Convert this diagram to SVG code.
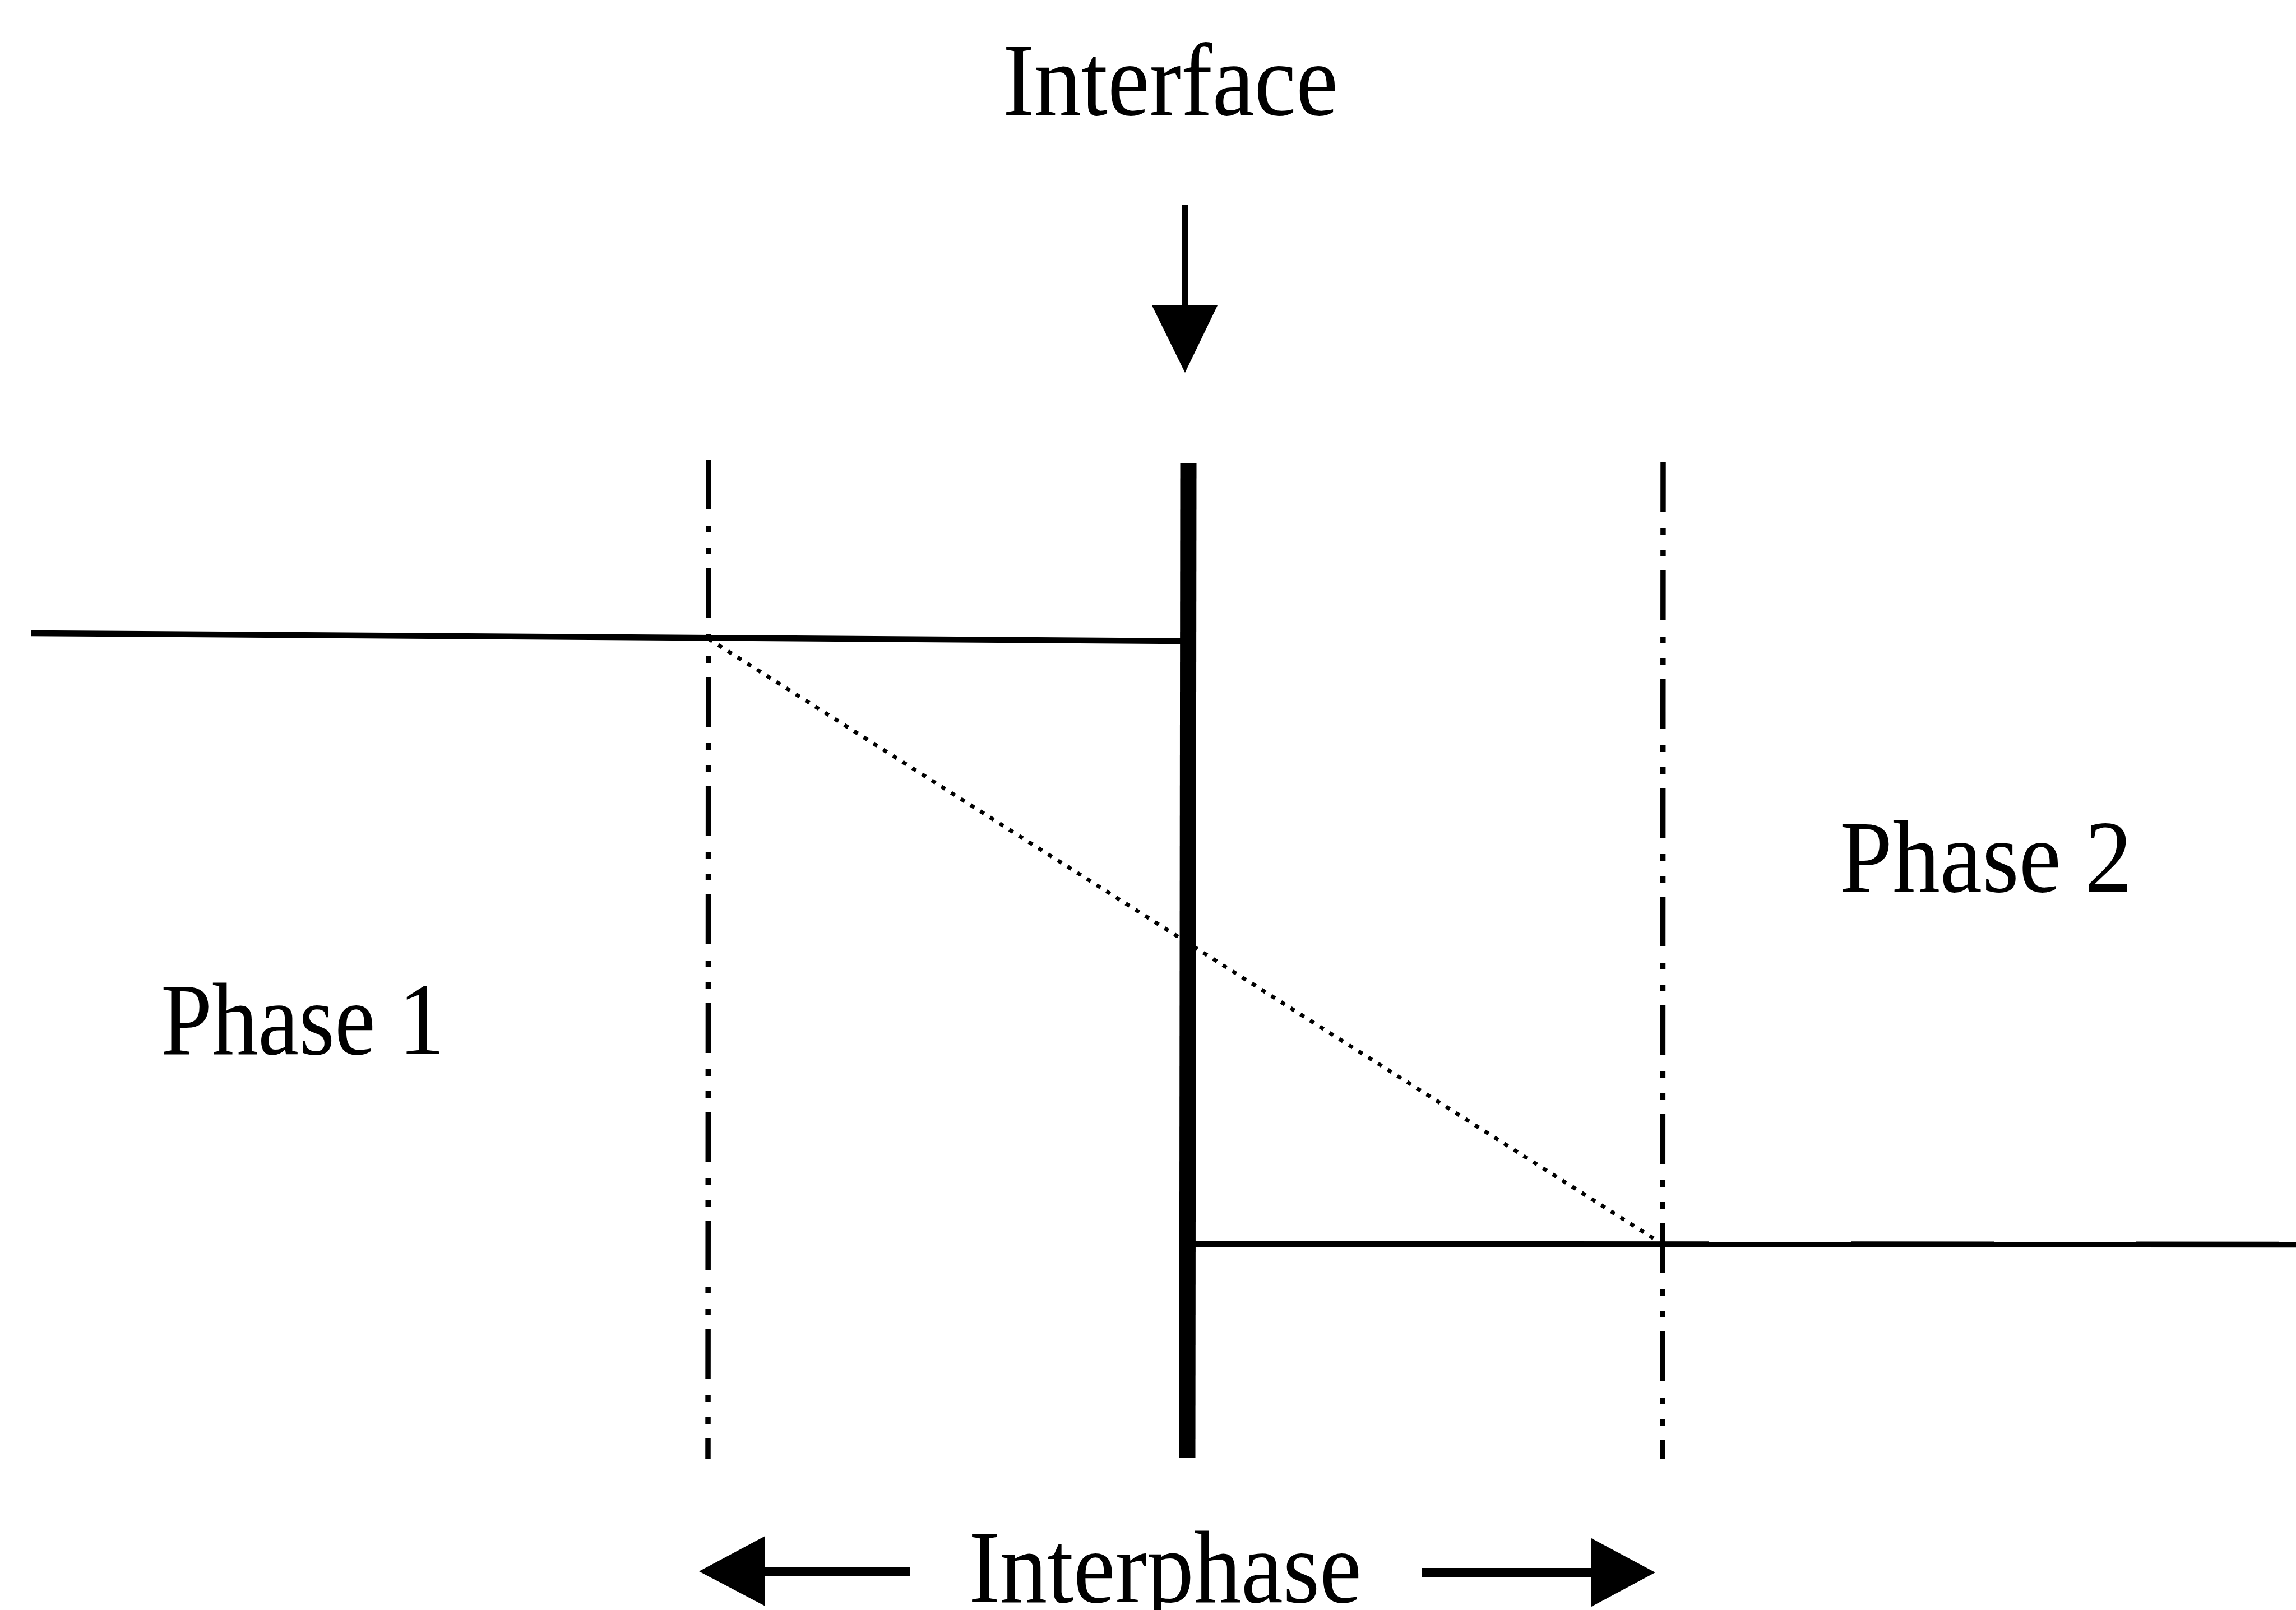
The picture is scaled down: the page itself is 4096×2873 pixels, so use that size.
<svg xmlns="http://www.w3.org/2000/svg" width="4096" height="2873" viewBox="0 0 4096 2873">
<style>
.lbl{font-family:"Liberation Serif","Times New Roman",serif;font-size:184px;fill:#000}
.solid{stroke:#000;stroke-width:10.5;fill:none}
.dashdot{stroke:#000;stroke-width:9.5;fill:none;stroke-dasharray:89 29 12 27 12 25}
.dotted{stroke:#000;stroke-width:7;fill:none;stroke-dasharray:8 12.5}
.head{fill:#000;stroke:none}
</style>
<rect width="4096" height="2873" fill="#fff"/>
<g id="interface-label"><text class="lbl" x="1789" y="205" textLength="598" lengthAdjust="spacingAndGlyphs">Interface</text></g>
<g id="phase1-label"><text class="lbl" x="287" y="1881" textLength="506" lengthAdjust="spacingAndGlyphs">Phase 1</text></g>
<g id="phase2-label"><text class="lbl" x="3282" y="1591" textLength="522" lengthAdjust="spacingAndGlyphs">Phase 2</text></g>
<g id="interphase-label"><text class="lbl" x="1728" y="2859" textLength="701" lengthAdjust="spacingAndGlyphs">Interphase</text></g>
<g id="interface-line"><line x1="2120" y1="826" x2="2118" y2="2601" stroke="#000" stroke-width="29"/></g>
<g id="boundary-left"><line class="dashdot" x1="1264" y1="820" x2="1263" y2="2604"/></g>
<g id="boundary-right"><line class="dashdot" x1="2967" y1="824" x2="2966" y2="2604"/></g>
<g id="connectors">
<line class="solid" x1="56" y1="1130" x2="2110" y2="1144"/>
<line class="solid" x1="2131" y1="2220" x2="4096" y2="2221"/>
<line class="dotted" x1="1264" y1="1140" x2="2966" y2="2220"/>
<line x1="2114" y1="365" x2="2114" y2="550" stroke="#000" stroke-width="11"/>
<polygon class="head" points="2055,545 2172,545 2114,665"/>
<line x1="1360" y1="2805" x2="1623" y2="2805" stroke="#000" stroke-width="16"/>
<polygon class="head" points="1247,2804 1365,2741 1365,2866"/>
<line x1="2536" y1="2806" x2="2845" y2="2806" stroke="#000" stroke-width="16"/>
<polygon class="head" points="2953,2806 2839,2745 2839,2867"/>
</g>
</svg>
